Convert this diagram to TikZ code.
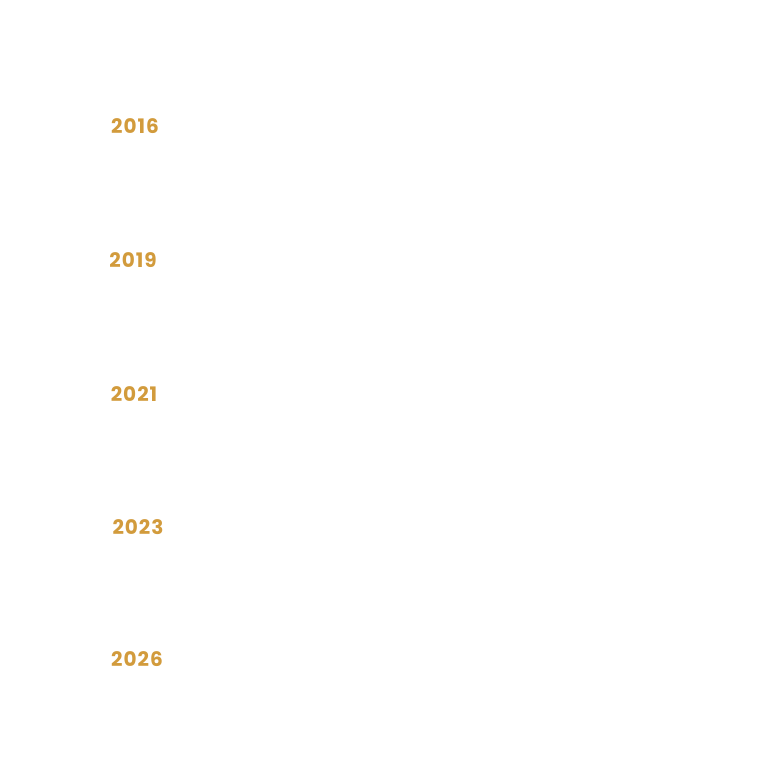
\documentclass[tikz,border=0pt]{standalone}
\usepackage{fontspec}
\setmainfont{Poppins}
\newfontfamily\yearfont[LetterSpace=5]{Poppins}
\definecolor{yeargold}{HTML}{D29B3C}
\usetikzlibrary{positioning}

\begin{document}
\begin{tikzpicture}[x=1pt,y=-1pt,
  yearlabel/.style={text=yeargold,font=\yearfont\fontsize{20}{22}\selectfont\bfseries,inner sep=0pt}]
\useasboundingbox[fill=white] (0,0) rectangle (758,764);
% Year labels down the left side.
\foreach \yr/\px/\py in {2016/135/126,2019/133/260,2021/134/394,2023/138/527,2026/137/659}{
  \node[yearlabel] (y\yr) at (\px,\py) {\yr};
}
\end{tikzpicture}
\end{document}
